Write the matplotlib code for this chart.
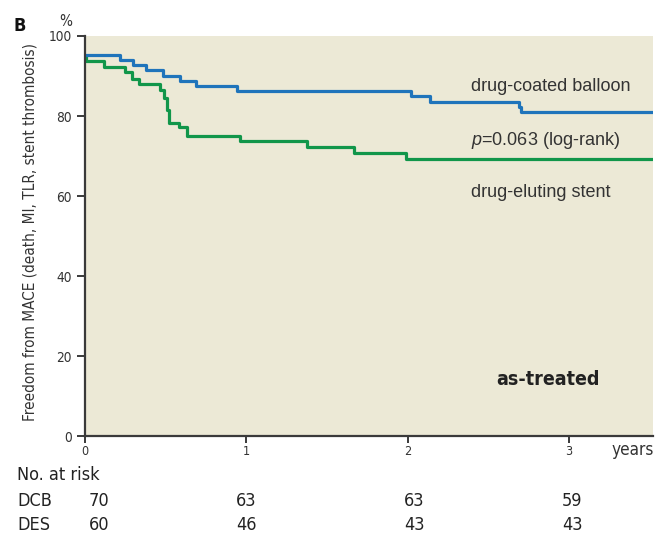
import matplotlib
matplotlib.use("Agg")
import matplotlib.pyplot as plt
from matplotlib import font_manager as fm
from matplotlib.font_manager import FontProperties

# Kaplan-Meier steps (time in years, freedom in %)
dcb_t = [0, 0.217, 0.30, 0.38, 0.485, 0.59, 0.69, 0.94, 2.02, 2.14, 2.69, 2.705, 3.52]
dcb_s = [95.2, 94.0, 92.7, 91.4, 90.1, 88.8, 87.4, 86.2, 85.0, 83.6, 82.3, 80.9, 80.9]

des_t = [0, 0.006, 0.118, 0.25, 0.293, 0.334, 0.464, 0.489, 0.51, 0.518, 0.584, 0.633,
         0.96, 1.377, 1.666, 1.99, 3.51]
des_s = [95.0, 93.75, 92.2, 90.9, 89.2, 87.9, 86.4, 84.4, 81.4, 78.2, 77.2, 75.1,
         73.9, 72.3, 70.9, 69.2, 69.2]

risk_t = [0.085, 1.0, 2.04, 3.02]
dcb_risk = [70, 63, 63, 59]
des_risk = [60, 46, 43, 43]


def find_narrow(weight):
    # look for any condensed / narrow face that is installed
    best, best_score = None, None
    for f in fm.fontManager.ttflist:
        name = f.name.lower()
        cond = (f.stretch in ("condensed", "semi-condensed")
                or "narrow" in name or "condensed" in name)
        if not cond or f.style != "normal":
            continue
        w = f.weight if isinstance(f.weight, int) else fm.weight_dict.get(f.weight, 400)
        score = abs(w - weight)
        if best_score is None or score < best_score:
            best, best_score = f.fname, score
    return best


reg_file = find_narrow(400)
bold_file = find_narrow(700)


def nfont(size, bold=False):
    path = bold_file if bold else reg_file
    if path:
        return FontProperties(fname=path, size=size)
    # no condensed face: shrink a normal one so widths stay close
    return FontProperties(family="Liberation Sans", size=size * 0.84,
                          weight="bold" if bold else "normal")


plt.rcParams["mathtext.fontset"] = "custom"
plt.rcParams["mathtext.rm"] = "Liberation Sans"
plt.rcParams["mathtext.it"] = "Liberation Sans:italic"

plain = ["Liberation Sans", "DejaVu Sans"]
blue = "#1f74bb"
green = "#11964a"
dark = "#3a3a3a"
txt = "#333333"

fig = plt.figure(figsize=(6.61, 5.38), dpi=100)
ax = fig.add_axes([0.1286, 0.1887, 0.8593, 0.7444])
ax.set_facecolor("#ece9d6")

ax.step(des_t, des_s, where="post", color=green, lw=2.3)
ax.step(dcb_t, dcb_s, where="post", color=blue, lw=2.3)

ax.set_xlim(0, 3.52)
ax.set_ylim(0, 100)

for s in ["top", "right"]:
    ax.spines[s].set_visible(False)
for s in ["left", "bottom"]:
    ax.spines[s].set_color(dark)
    ax.spines[s].set_linewidth(1.6)

ax.set_yticks([0, 20, 40, 60, 80, 100])
ax.set_xticks([0, 1, 2, 3])
ax.tick_params(axis="y", length=6, width=1.4, color=dark, pad=3.5, labelcolor=txt)
ax.tick_params(axis="x", length=5, width=1.4, color=dark, pad=1, labelcolor=txt)
for lab in ax.get_yticklabels():
    lab.set_fontproperties(nfont(9.8))
for lab in ax.get_xticklabels():
    lab.set_fontproperties(nfont(9))

ax.set_ylabel("Freedom from MACE (death, MI, TLR, stent thrombosis)",
              fontproperties=nfont(11), color=txt)
ax.yaxis.set_label_coords(-0.083, 0.51)

# curve labels
ax.text(2.39, 87.5, "drug-coated balloon", family=plain, fontsize=13, color=txt,
        va="center")
ax.text(2.39, 74, "$\\it{p}$=0.063 (log-rank)", family=plain, fontsize=13, color=txt,
        va="center")
ax.text(2.39, 61, "drug-eluting stent", family=plain, fontsize=13, color=txt,
        va="center")
ax.text(2.87, 14.2, "as-treated", fontproperties=nfont(14, True),
        color="#222222", ha="center", va="center")

# outside labels
ax.text(3.26, -3.4, "years", fontproperties=nfont(12.3), color=txt,
        va="center", clip_on=False)
fig.text(66 / 661, 1 - 22 / 538, "%", fontproperties=nfont(11), color=txt,
         ha="center", va="center")
fig.text(20 / 661, 1 - 26 / 538, "B", fontproperties=nfont(13, True),
         color="#111111", ha="center", va="center")

fig.text(17 / 661, 1 - 475 / 538, "No. at risk", fontproperties=nfont(13),
         color="#222222", va="center")
fig.text(17 / 661, 1 - 501 / 538, "DCB", fontproperties=nfont(13), color="#222222",
         va="center")
fig.text(17 / 661, 1 - 525 / 538, "DES", fontproperties=nfont(13), color="#222222",
         va="center")
for t, a, b in zip(risk_t, dcb_risk, des_risk):
    ax.text(t, -16.1, str(a), fontproperties=nfont(13), color="#222222",
            ha="center", va="center", clip_on=False)
    ax.text(t, -22.1, str(b), fontproperties=nfont(13), color="#222222",
            ha="center", va="center", clip_on=False)

fig.savefig("out.png", dpi=100)
